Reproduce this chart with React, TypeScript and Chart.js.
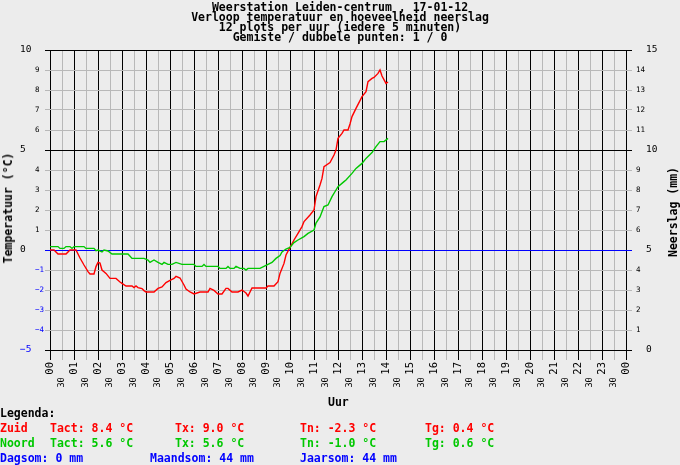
import React, { useEffect, useRef } from "react";
import { Chart, registerables } from "chart.js";

Chart.register(...registerables);

const MONO = '"DejaVu Sans Mono", monospace';
const BG = "#ececec";
const GREY = "#b8b8b8";
const RED = "#ff0000";
const GREEN = "#00c800";
const BLUE = "#0000ff";

// Zuid sensor: minutes after midnight and temperature (°C)
const zuidMinutes = [0, 10, 20, 40, 50, 65, 75, 85, 95, 100, 110, 115, 120, 125, 130, 140, 150, 165, 175, 180, 190, 205, 210, 215, 220, 230, 235, 240, 260, 270, 280, 290, 300, 310, 315, 325, 335, 340, 350, 360, 375, 395, 400, 410, 420, 430, 440, 445, 455, 470, 480, 490, 495, 505, 540, 545, 560, 570, 575, 585, 590, 600, 610, 620, 630, 635, 650, 660, 665, 675, 680, 685, 700, 710, 715, 720, 730, 735, 745, 750, 755, 765, 775, 780, 790, 795, 805, 810, 820, 825, 830, 840, 845];
const zuidTemps = [0, 0, -0.2, -0.2, 0, 0, -0.4, -0.75, -1.08, -1.2, -1.2, -0.83, -0.62, -0.65, -1.0, -1.17, -1.42, -1.42, -1.6, -1.67, -1.8, -1.8, -1.88, -1.8, -1.88, -1.93, -2.03, -2.1, -2.1, -1.92, -1.85, -1.63, -1.52, -1.42, -1.32, -1.4, -1.75, -1.95, -2.1, -2.2, -2.1, -2.1, -1.92, -2.02, -2.2, -2.2, -1.92, -1.92, -2.1, -2.1, -2.0, -2.15, -2.3, -1.9, -1.9, -1.8, -1.8, -1.58, -1.17, -0.67, -0.25, 0.13, 0.5, 0.83, 1.17, 1.42, 1.75, 2.0, 2.67, 3.25, 3.58, 4.17, 4.37, 4.75, 5.0, 5.58, 5.83, 6.0, 6.0, 6.3, 6.67, 7.08, 7.47, 7.67, 7.92, 8.42, 8.58, 8.63, 8.83, 9.0, 8.7, 8.33, 8.4];

// Noord sensor
const noordMinutes = [0, 20, 25, 35, 40, 50, 55, 60, 85, 90, 110, 115, 120, 130, 135, 145, 155, 195, 205, 235, 245, 250, 260, 270, 280, 285, 295, 305, 315, 330, 360, 365, 380, 385, 390, 420, 425, 440, 445, 450, 460, 465, 475, 485, 490, 495, 525, 535, 545, 555, 565, 575, 580, 590, 600, 610, 620, 635, 645, 660, 665, 675, 685, 695, 705, 715, 720, 735, 740, 755, 765, 780, 790, 805, 815, 825, 835, 845];
const noordTemps = [0.17, 0.17, 0.08, 0.08, 0.17, 0.17, 0.08, 0.17, 0.17, 0.08, 0.08, -0.03, 0, -0.1, 0, -0.05, -0.2, -0.2, -0.42, -0.42, -0.5, -0.62, -0.5, -0.62, -0.72, -0.62, -0.72, -0.72, -0.62, -0.72, -0.72, -0.82, -0.82, -0.72, -0.82, -0.82, -0.92, -0.92, -0.82, -0.92, -0.92, -0.82, -0.92, -0.92, -1.0, -0.92, -0.92, -0.82, -0.72, -0.62, -0.42, -0.28, -0.1, 0.05, 0.13, 0.37, 0.5, 0.67, 0.83, 1.0, 1.35, 1.65, 2.17, 2.25, 2.67, 3.0, 3.17, 3.42, 3.5, 3.83, 4.08, 4.33, 4.58, 4.87, 5.17, 5.42, 5.42, 5.58];

const hourLabels = ["00", "01", "02", "03", "04", "05", "06", "07", "08", "09", "10", "11", "12", "13", "14", "15", "16", "17", "18", "19", "20", "21", "22", "23", "00"];
const halfHourLabel = "30";
const tempBigTicks = [10, 5, 0, -5];
const rainBigTicks = [15, 10, 5, 0];
const blackTempLines = [10, 5, -5];

const titleLines = [
  "Weerstation Leiden-centrum , 17-01-12",
  "Verloop temperatuur en hoeveelheid neerslag",
  "12 plots per uur (iedere 5 minuten)",
  "Gemiste / dubbele punten: 1 / 0",
];
const zuidStats = ["Zuid", "Tact: 8.4 °C", "Tx: 9.0 °C", "Tn: -2.3 °C", "Tg: 0.4 °C"];
const noordStats = ["Noord", "Tact: 5.6 °C", "Tx: 5.6 °C", "Tn: -1.0 °C", "Tg: 0.6 °C"];
const rainStats = ["Dagsom: 0 mm", "Maandsom: 44 mm", "Jaarsom: 44 mm"];

const statCols = [0, 50, 175, 300, 425];
const rainCols = [0, 150, 300];

const boldText: React.CSSProperties = {
  position: "absolute",
  fontFamily: MONO,
  fontWeight: "bold",
  fontSize: "11.5px",
  lineHeight: "12px",
  whiteSpace: "pre",
  margin: 0,
};

function Txt({ x, base, color, children }: { x: number; base: number; color: string; children: React.ReactNode }) {
  return <div style={{ ...boldText, left: x, top: base - 10, color }}>{children}</div>;
}

export default function App() {
  const canvasRef = useRef<HTMLCanvasElement | null>(null);

  useEffect(() => {
    const canvas = canvasRef.current;
    if (!canvas) return;
    const chart = new Chart(canvas, {
      type: "line",
      data: {
        datasets: [
          {
            label: "Noord",
            data: noordMinutes.map((m, i) => ({ x: m, y: noordTemps[i] })),
            borderColor: GREEN,
            borderWidth: 1.4,
            pointRadius: 0,
            tension: 0,
            xAxisID: "x",
            yAxisID: "y",
          },
          {
            label: "Zuid",
            data: zuidMinutes.map((m, i) => ({ x: m, y: zuidTemps[i] })),
            borderColor: RED,
            borderWidth: 1.4,
            pointRadius: 0,
            tension: 0,
            xAxisID: "x",
            yAxisID: "y",
          },
        ],
      },
      options: {
        animation: false,
        responsive: false,
        devicePixelRatio: 1,
        events: [],
        layout: { padding: { left: 20, right: 0, top: 50, bottom: 0 } },
        plugins: { legend: { display: false }, title: { display: false }, tooltip: { enabled: false } },
        scales: {
          x: {
            type: "linear",
            position: "bottom",
            min: 0,
            max: 1440,
            afterFit: (s: any) => {
              s.height = 115;
            },
            border: { display: false },
            grid: {
              color: (c: any) => (c.tick && c.tick.value % 60 === 0 ? "#000000" : GREY),
              tickColor: (c: any) => (c.tick && c.tick.value % 60 === 0 ? "#000000" : GREY),
              lineWidth: 1,
              tickLength: 10,
            },
            ticks: {
              stepSize: 30,
              autoSkip: false,
              maxRotation: 90,
              minRotation: 90,
              padding: 2,
              color: "#000000",
              font: (c: any) => ({ family: MONO, size: c.tick && c.tick.value % 60 === 0 ? 10.5 : 8.5 }),
              callback: (v: any) => {
                const n = Number(v);
                return n % 60 === 0 ? hourLabels[n / 60] : halfHourLabel + "   ";
              },
            },
          },
          yBig: {
            type: "linear",
            position: "left",
            weight: 1,
            min: -5,
            max: 10,
            afterFit: (s: any) => {
              s.width = 15;
            },
            border: { display: false },
            grid: { display: false, drawTicks: false },
            ticks: {
              stepSize: 5,
              padding: 0,
              crossAlign: "far",
              font: { family: MONO, size: 9.5 },
              color: (c: any) => (c.tick && c.tick.value < 0 ? BLUE : "#000000"),
              callback: (v: any) => String(v).replace("-", "−"),
            },
          },
          y: {
            type: "linear",
            position: "left",
            weight: 0,
            min: -5,
            max: 10,
            afterFit: (s: any) => {
              s.width = 15;
            },
            border: { display: false },
            grid: {
              color: (c: any) => {
                const v = c.tick ? c.tick.value : 1;
                if (v === 0) return BLUE;
                return blackTempLines.includes(v) ? "#000000" : GREY;
              },
              lineWidth: 1,
              tickLength: 5,
            },
            ticks: {
              stepSize: 1,
              padding: 0,
              crossAlign: "far",
              font: { family: MONO, size: 7.5 },
              color: (c: any) => (c.tick && c.tick.value < 0 ? BLUE : "#000000"),
              callback: (v: any) => (tempBigTicks.includes(Number(v)) ? "" : String(v).replace("-", "−")),
            },
          },
          yRain: {
            type: "linear",
            position: "right",
            weight: 0,
            min: 0,
            max: 15,
            afterFit: (s: any) => {
              s.width = 20;
            },
            border: { display: false },
            grid: {
              drawOnChartArea: false,
              tickLength: 6,
              lineWidth: 1,
              color: (c: any) => {
                const v = c.tick ? c.tick.value : 1;
                if (v === 5) return BLUE;
                return rainBigTicks.includes(v) ? "#000000" : GREY;
              },
            },
            ticks: {
              stepSize: 1,
              padding: 4,
              font: { family: MONO, size: 7.5 },
              color: "#000000",
              callback: (v: any) => (rainBigTicks.includes(Number(v)) ? "" : String(v)),
            },
          },
          yRainBig: {
            type: "linear",
            position: "right",
            weight: 1,
            min: 0,
            max: 15,
            afterFit: (s: any) => {
              s.width = 34;
            },
            border: { display: false },
            grid: { display: false, drawTicks: false },
            ticks: {
              stepSize: 5,
              padding: 0,
              crossAlign: "near",
              font: { family: MONO, size: 9.5 },
              color: "#000000",
              callback: (v: any) => String(v),
            },
          },
        },
      },
    } as any);
    return () => chart.destroy();
  }, []);

  return (
    <div style={{ position: "fixed", left: 0, top: 0, width: 680, height: 465, background: BG, overflow: "hidden" }}>
      <canvas ref={canvasRef} width={680} height={465} style={{ position: "absolute", left: 0, top: 0, width: 680, height: 465 }} />
      {titleLines.map((t, i) => (
        <div key={i} style={{ ...boldText, left: 0, width: 680, textAlign: "center", top: 1 + i * 10, color: "#000" }}>
          {t}
        </div>
      ))}
      <div style={{ ...boldText, left: 8, top: 208, color: "#000", transform: "translate(-50%, -50%) rotate(-90deg)" }}>
        Temperatuur (°C)
      </div>
      <div style={{ ...boldText, left: 673, top: 212, color: "#000", transform: "translate(-50%, -50%) rotate(-90deg)" }}>
        Neerslag (mm)
      </div>
      <Txt x={328} base={406} color="#000">Uur</Txt>
      <Txt x={0} base={417} color="#000">Legenda:</Txt>
      {zuidStats.map((t, i) => (
        <Txt key={"z" + i} x={statCols[i]} base={432} color={RED}>{t}</Txt>
      ))}
      {noordStats.map((t, i) => (
        <Txt key={"n" + i} x={statCols[i]} base={447} color={GREEN}>{t}</Txt>
      ))}
      {rainStats.map((t, i) => (
        <Txt key={"r" + i} x={rainCols[i]} base={462} color={BLUE}>{t}</Txt>
      ))}
    </div>
  );
}
